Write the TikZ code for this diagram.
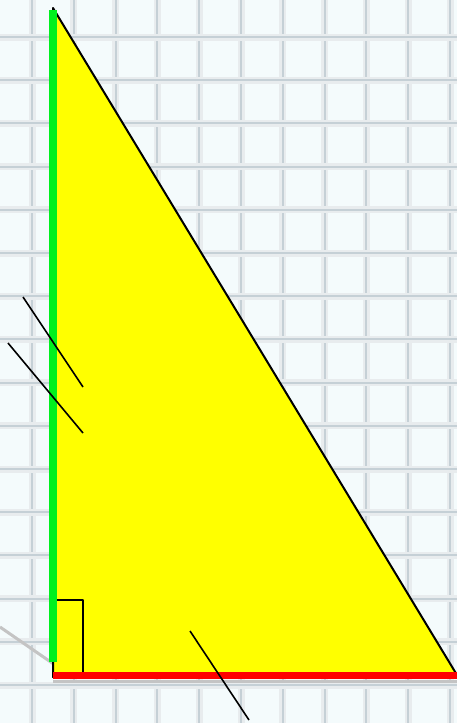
\documentclass[tikz,border=0pt]{standalone}
\usepackage{tikz}
\usetikzlibrary{calc}
\definecolor{papercolor}{RGB}{244,251,252}
\definecolor{gridcolor}{RGB}{150,170,180}
\definecolor{sidegreen}{RGB}{0,240,30}
\definecolor{fillyellow}{RGB}{255,255,0}
\definecolor{sidered}{RGB}{255,0,0}
\definecolor{shadowgray}{RGB}{196,196,196}

\begin{document}
\begin{tikzpicture}[x=1pt, y=-1pt, line join=round]

  % --- Fundo quadriculado ---
  \fill[papercolor] (0,0) rectangle (457,723);
  \useasboundingbox (0,0) rectangle (457,723);
  \foreach \k in {0,...,10} {
    \draw[gridcolor!22, line width=7pt] ({32+41.8*\k},0) -- ({32+41.8*\k},723);
    \draw[gridcolor!55, line width=2pt] ({32+41.8*\k},0) -- ({32+41.8*\k},723);
  }
  \foreach \k in {0,...,16} {
    \draw[gridcolor!22, line width=7pt] (0,{37+43.2*\k}) -- (457,{37+43.2*\k});
    \draw[gridcolor!55, line width=2pt] (0,{37+43.2*\k}) -- (457,{37+43.2*\k});
  }

  % Vertices do triangulo
  \coordinate (A) at (53,8);
  \coordinate (B) at (53,677);
  \coordinate (C) at (457,675);

  % Sombras cinzentas
  \draw[shadowgray, line width=3pt] (0,627) -- (58,667);
  \draw[shadowgray, line width=3pt] (53,681) -- (457,681);

  % Triangulo
  \filldraw[fill=fillyellow, draw=black, line width=2pt] (A) -- (B) -- (C) -- cycle;

  % Angulo recto
  \draw[black, line width=1.8pt] (55,600) -- (83,600) -- (83,673);

  % Catetos coloridos
  \draw[sidegreen, line width=8pt] (53,10) -- (53,662);
  \draw[sidered, line width=7pt] (53,675.5) -- (457,675.5);

  % Marcas de igualdade
  \draw[black, line width=1.6pt] (23,297) -- (83,387);
  \draw[black, line width=1.6pt] (8,343) -- (83,433);
  \draw[black, line width=1.6pt] (190,631) -- (249,720);

\end{tikzpicture}
\end{document}
